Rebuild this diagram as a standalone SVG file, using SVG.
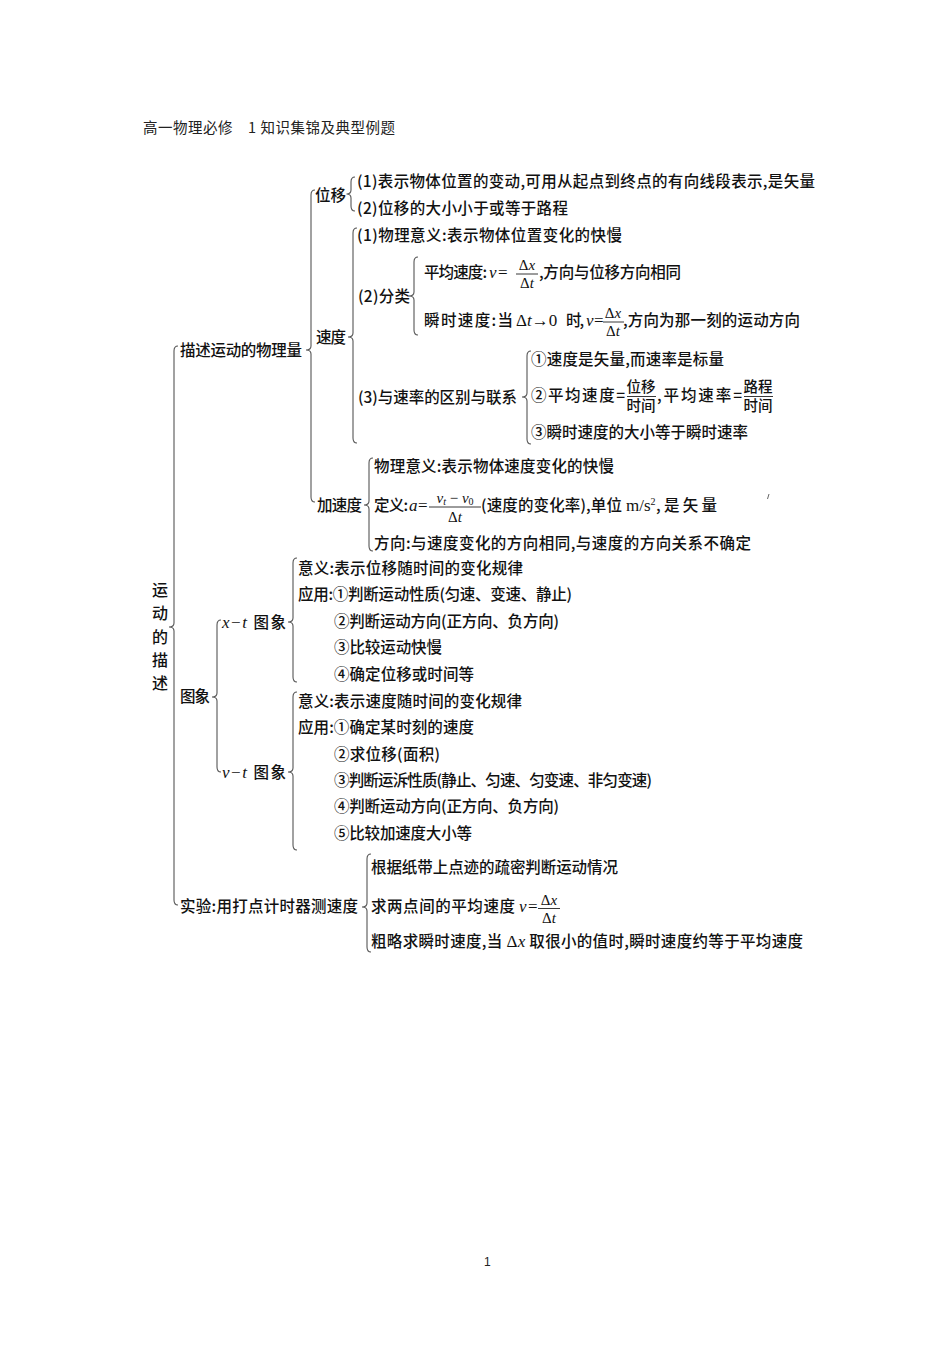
<svg xmlns="http://www.w3.org/2000/svg" width="950" height="1345" viewBox="0 0 950 1345">
<style>
.t{font-family:"Noto Sans CJK SC","Noto Sans CJK JP",sans-serif;font-size:15.5px;font-weight:500;fill:#111}
.h{font-family:"Noto Sans CJK SC",sans-serif;font-size:14.5px;fill:#222}
.m{font-family:"Liberation Serif",serif;font-style:italic;font-weight:normal}
.r{font-family:"Liberation Serif",serif;font-style:normal;font-weight:normal}
.ms{font-size:17px}
.f{font-family:"Liberation Serif",serif;font-size:15px;fill:#111}
.fc{font-family:"Noto Sans CJK SC",sans-serif;font-size:14.5px;font-weight:500;fill:#111}
.br{fill:none;stroke:#555;stroke-width:1.1}
.fl{stroke:#222;stroke-width:0.9}
</style>
<rect width="950" height="1345" fill="#fff"/>
<text class="h" x="143" y="133" textLength="252">高一物理必修　1 知识集锦及典型例题</text>

<g id="connectors">
<path class="br" d="M178 346 Q174 346 174 351 L174 623 Q174 627 169 627 Q174 627 174 631 L174 900 Q174 905 178 905"/>
<path class="br" d="M315 190 Q311 190 311 195 L311 346 Q311 350 306 350 Q311 350 311 354 L311 497 Q311 502 315 502"/>
<path class="br" d="M355 177 Q351 177 351 182 L351 190 Q351 194 346.5 194 Q351 194 351 198 L351 206 Q351 211 355 211"/>
<path class="br" d="M357 228 Q353 228 353 233 L353 333 Q353 337 348 337 Q353 337 353 341 L353 438 Q353 443 357 443"/>
<path class="br" d="M418 257 Q414 257 414 262 L414 292 Q414 296 409 296 Q414 296 414 300 L414 330 Q414 335 418 335"/>
<path class="br" d="M531 351 Q527 351 527 356 L527 393 Q527 397 522 397 Q527 397 527 401 L527 439 Q527 444 531 444"/>
<path class="br" d="M373 458 Q369 458 369 463 L369 501 Q369 505 364 505 Q369 505 369 509 L369 546 Q369 551 373 551"/>
<path class="br" d="M221 620 Q217 620 217 625 L217 693 Q217 697 212 697 Q217 697 217 701 L217 767 Q217 772 221 772"/>
<path class="br" d="M297 558 Q293 558 293 563 L293 618 Q293 622 288 622 Q293 622 293 626 L293 677 Q293 682 297 682"/>
<path class="br" d="M297 692 Q293 692 293 697 L293 768 Q293 772 288 772 Q293 772 293 776 L293 845 Q293 850 297 850"/>
<path class="br" d="M371 854 Q367 854 367 859 L367 903 Q367 907 362 907 Q367 907 367 911 L367 947 Q367 952 371 952"/>
</g>

<g id="n-root">
<text class="t" x="160" y="596" text-anchor="middle" style="font-size:16px">运</text>
<text class="t" x="160" y="619" text-anchor="middle" style="font-size:16px">动</text>
<text class="t" x="160" y="643" text-anchor="middle" style="font-size:16px">的</text>
<text class="t" x="160" y="666" text-anchor="middle" style="font-size:16px">描</text>
<text class="t" x="160" y="689" text-anchor="middle" style="font-size:16px">述</text>
</g>

<g id="n-desc">
<text class="t" x="180" y="355.5" textLength="122">描述运动的物理量</text>
</g>

<g id="n-weiyi">
<text class="t" x="315" y="200.5">位移</text>
<text class="t" x="357" y="186.5" textLength="458">(1)表示物体位置的变动,可用从起点到终点的有向线段表示,是矢量</text>
<text class="t" x="357" y="213.5" textLength="211">(2)位移的大小小于或等于路程</text>
</g>

<g id="n-sudu">
<text class="t" x="316" y="342.5" textLength="30">速度</text>
<text class="t" x="357" y="240.5" textLength="265">(1)物理意义:表示物体位置变化的快慢</text>
</g>

<g id="n-fenlei">
<text class="t" x="358" y="301.5" textLength="52">(2)分类</text>
<text class="t" x="424" y="277.5" textLength="63">平均速度:</text>
<text class="t m ms" x="489" y="277.5">v</text>
<text class="t r ms" x="498" y="277.5">=</text>
<text class="f" x="527" y="270" text-anchor="middle"><tspan class="r">Δ</tspan><tspan class="m">x</tspan></text>
<line class="fl" x1="516" y1="274" x2="538" y2="274"/>
<text class="f" x="527" y="288" text-anchor="middle"><tspan class="r">Δ</tspan><tspan class="m">t</tspan></text>
<text class="t" x="539" y="277.5" textLength="142">,方向与位移方向相同</text>
<text class="t" x="424" y="325.5" textLength="89">瞬时速度:当</text>
<text class="t r ms" x="516" y="325.5">Δ<tspan class="m">t</tspan>→0</text>
<text class="t" x="566" y="325.5" textLength="18">时,</text>
<text class="t m ms" x="586" y="325.5">v</text>
<text class="t r ms" x="594" y="325.5">=</text>
<text class="f" x="613" y="318" text-anchor="middle"><tspan class="r">Δ</tspan><tspan class="m">x</tspan></text>
<line class="fl" x1="603" y1="322" x2="624" y2="322"/>
<text class="f" x="613" y="336" text-anchor="middle"><tspan class="r">Δ</tspan><tspan class="m">t</tspan></text>
<text class="t" x="623" y="325.5" textLength="177">,方向为那一刻的运动方向</text>
</g>

<g id="n-qubie">
<text class="t" x="358" y="403" textLength="159">(3)与速率的区别与联系</text>
<text class="t" x="531" y="364.5" textLength="193">①速度是矢量,而速率是标量</text>
<text class="t" x="531" y="400.5" textLength="94">②平均速度=</text>
<text class="fc" x="641" y="392" text-anchor="middle">位移</text>
<line class="fl" x1="627" y1="396.5" x2="656" y2="396.5"/>
<text class="fc" x="641" y="410.5" text-anchor="middle">时间</text>
<text class="t" x="657" y="400.5" textLength="85">,平均速率=</text>
<text class="fc" x="758" y="392" text-anchor="middle">路程</text>
<line class="fl" x1="744" y1="396.5" x2="773" y2="396.5"/>
<text class="fc" x="758" y="410.5" text-anchor="middle">时间</text>
<text class="t" x="531" y="437.5" textLength="217">③瞬时速度的大小等于瞬时速率</text>
</g>

<g id="n-jiasudu">
<text class="t" x="317" y="511" textLength="45">加速度</text>
<text class="t" x="374" y="471.5" textLength="240">物理意义:表示物体速度变化的快慢</text>
<text class="t" x="374" y="511" textLength="34">定义:</text>
<text class="t m ms" x="409" y="511">a</text>
<text class="t r ms" x="418" y="511">=</text>
<text class="f" x="455" y="502.5" text-anchor="middle"><tspan class="m">v</tspan><tspan class="m" style="font-size:10px" dy="2">t</tspan><tspan dy="-2"> − </tspan><tspan class="m">v</tspan><tspan style="font-size:10px" dy="2">0</tspan></text>
<line class="fl" x1="429" y1="507" x2="481" y2="507"/>
<text class="f" x="455" y="522" text-anchor="middle"><tspan class="r">Δ</tspan><tspan class="m">t</tspan></text>
<text class="t" x="481" y="511" textLength="141">(速度的变化率),单位</text>
<text class="t r ms" x="626" y="511">m/s<tspan style="font-size:10px" dy="-6">2</tspan></text>
<text class="t" x="656" y="511" textLength="61">,是矢量</text>
<text class="t" x="374" y="548.5" textLength="377">方向:与速度变化的方向相同,与速度的方向关系不确定</text>
</g>

<g id="n-tuxiang">
<text class="t" x="180" y="702" textLength="30">图象</text>
</g>

<g id="n-xt">
<text class="t" x="222" y="627.5" textLength="64"><tspan class="m ms">x</tspan><tspan class="r ms">−</tspan><tspan class="m ms">t</tspan> 图象</text>
<text class="t" x="298" y="573.5" textLength="225">意义:表示位移随时间的变化规律</text>
<text class="t" x="298" y="599.5" textLength="274">应用:①判断运动性质(匀速、变速、静止)</text>
<text class="t" x="334" y="626.5" textLength="225">②判断运动方向(正方向、负方向)</text>
<text class="t" x="334" y="652.5" textLength="108">③比较运动快慢</text>
<text class="t" x="334" y="679.5" textLength="140">④确定位移或时间等</text>
</g>

<g id="n-vt">
<text class="t" x="222" y="777.5" textLength="64"><tspan class="m ms">v</tspan><tspan class="r ms">−</tspan><tspan class="m ms">t</tspan> 图象</text>
<text class="t" x="298" y="706.5" textLength="224">意义:表示速度随时间的变化规律</text>
<text class="t" x="298" y="733" textLength="176">应用:①确定某时刻的速度</text>
<text class="t" x="334" y="759.5" textLength="106">②求位移(面积)</text>
<text class="t" x="334" y="786" textLength="318">③判断运泝性质(静止、匀速、匀变速、非匀变速)</text>
<text class="t" x="334" y="812" textLength="225">④判断运动方向(正方向、负方向)</text>
<text class="t" x="334" y="839" textLength="138">⑤比较加速度大小等</text>
</g>

<g id="n-shiyan">
<text class="t" x="180" y="912" textLength="178">实验:用打点计时器测速度</text>
<text class="t" x="371" y="873" textLength="247">根据纸带上点迹的疏密判断运动情况</text>
<text class="t" x="371" y="912" textLength="144">求两点间的平均速度</text>
<text class="t m ms" x="519" y="912">v</text>
<text class="t r ms" x="528" y="912">=</text>
<text class="f" x="549" y="904.5" text-anchor="middle"><tspan class="r">Δ</tspan><tspan class="m">x</tspan></text>
<line class="fl" x1="538" y1="908.5" x2="560" y2="908.5"/>
<text class="f" x="549" y="922.5" text-anchor="middle"><tspan class="r">Δ</tspan><tspan class="m">t</tspan></text>
<text class="t" x="371" y="947" textLength="432">粗略求瞬时速度,当 <tspan class="r ms">Δ</tspan><tspan class="m ms">x</tspan> 取很小的值时,瞬时速度约等于平均速度</text>
</g>

<path d="M769 494 L767.5 499" stroke="#666" stroke-width="1" fill="none"/>
<text x="484" y="1266" font-family="Liberation Sans, sans-serif" font-size="12" fill="#222">1</text>
</svg>
